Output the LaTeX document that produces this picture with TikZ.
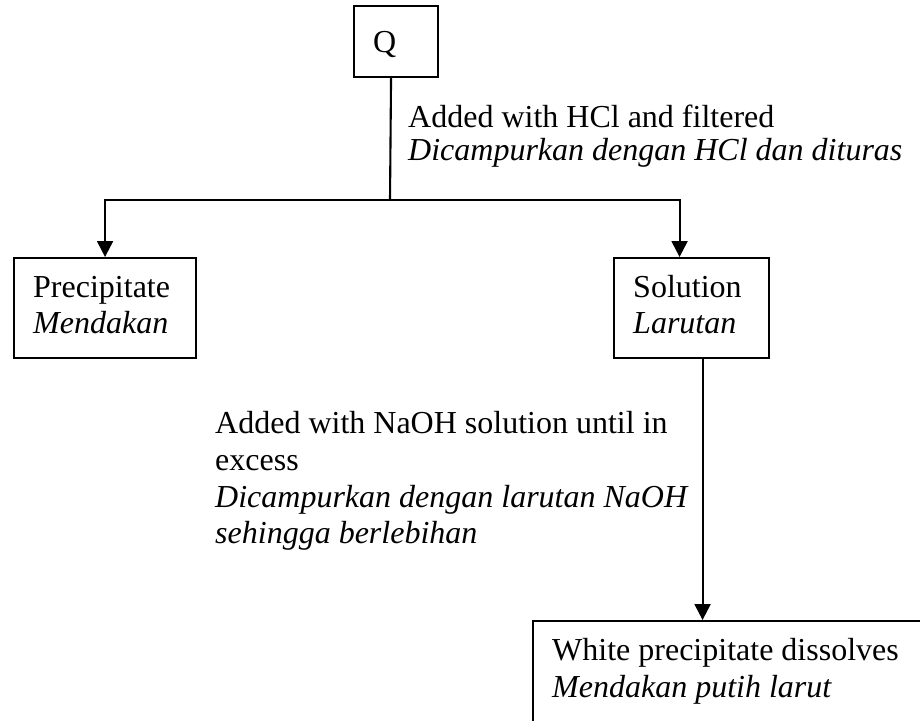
\documentclass[tikz,border=0pt]{standalone}
\usepackage{fontspec}
\setmainfont{Liberation Serif}
\usetikzlibrary{arrows.meta}
\begin{document}
\begin{tikzpicture}[x=1pt,y=-1pt,
  box/.style={draw, line width=2.1pt, rectangle, inner sep=0pt, anchor=north west},
  txt/.style={anchor=base west, inner sep=0pt, font=\fontsize{32}{36}\selectfont},
  itxt/.style={anchor=base west, inner sep=0pt, font=\fontsize{32}{36}\selectfont\itshape},
  conn/.style={line width=2.1pt},
  arr/.style={conn, -{Triangle[width=16pt,length=16pt]}}]
\clip (0,0) rectangle (920,720);
\fill[white] (0,0) rectangle (920,720);
% boxes
\node[box, minimum width=84pt, minimum height=71pt] (q) at (353,5) {};
\node[box, minimum width=182pt, minimum height=100pt] (prec) at (13,257) {};
\node[box, minimum width=155pt, minimum height=100pt] (sol) at (613,257) {};
\node[box, minimum width=420pt, minimum height=130pt] (white) at (532,620) {};
% texts
\node[txt] (qt) at (373,52) {Q};
\node[txt] (hcl1) at (408,127) {Added with HCl and filtered};
\node[itxt] (hcl2) at (408,160) {Dicampurkan dengan HCl dan dituras};
\node[txt] (prec1) at (33,297) {Precipitate};
\node[itxt] (prec2) at (33,333) {Mendakan};
\node[txt] (sol1) at (633,297) {Solution};
\node[itxt] (sol2) at (633,333) {Larutan};
\node[txt] (na1) at (215,433) {Added with NaOH solution until in};
\node[txt] (na2) at (215,470) {excess};
\node[itxt] (na3) at (215,507) {Dicampurkan dengan larutan NaOH};
\node[itxt] (na4) at (215,543) {sehingga berlebihan};
\node[txt] (wh1) at (552,660) {White precipitate dissolves};
\node[itxt] (wh2) at (552,697) {Mendakan putih larut};
% connectors
\coordinate (split) at (390,200);
\draw[conn] ([xshift=-5pt]q.south) -- (split);
\draw[arr] (split) -| (prec.north);
\draw[arr] (split) -| ([xshift=-12pt]sol.north);
\draw[arr] ([xshift=11pt]sol.south) -- ([xshift=11pt]sol.south |- white.north);
\end{tikzpicture}
\end{document}
